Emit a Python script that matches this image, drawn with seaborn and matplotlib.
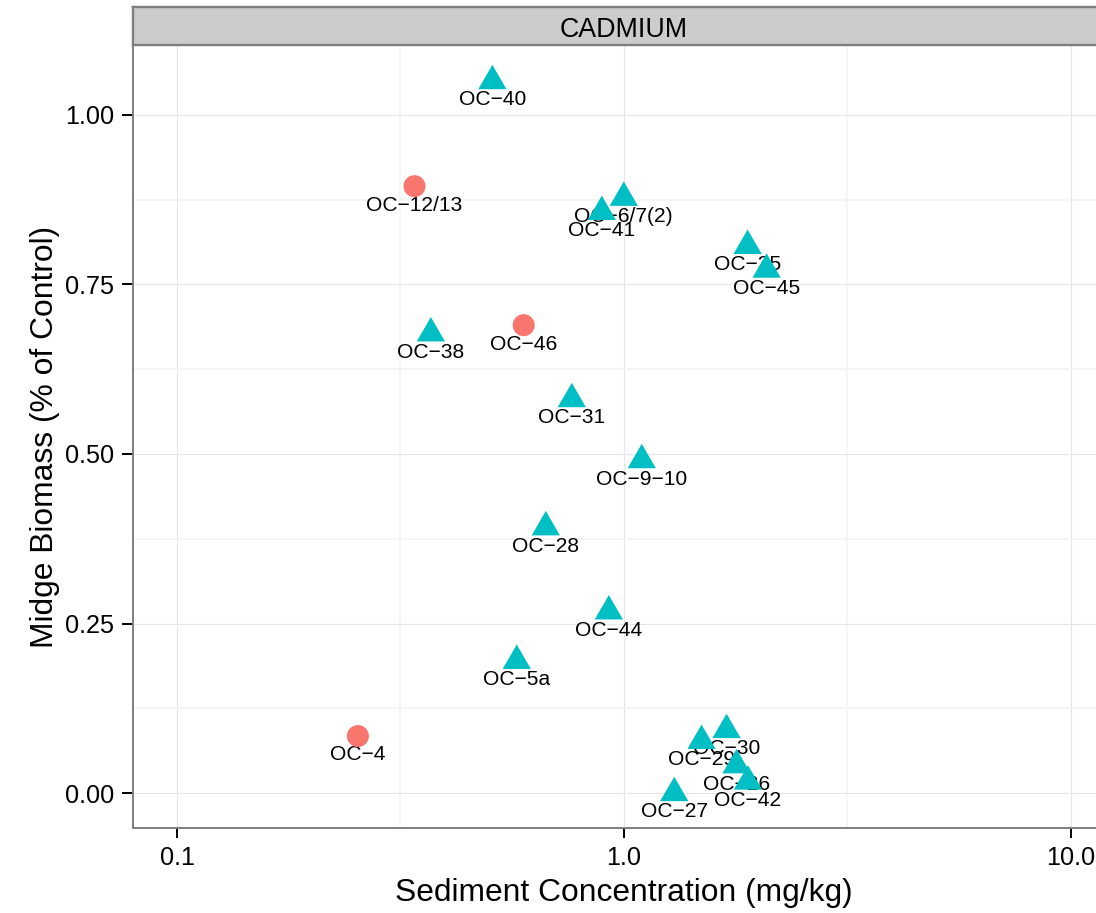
import numpy as np
import pandas as pd
import matplotlib
matplotlib.use("Agg")
import matplotlib.pyplot as plt
from matplotlib.markers import MarkerStyle
import seaborn as sns

# ---------------- data ----------------
stations = ["OC\u221212/13", "OC\u221246", "OC\u22124",
            "OC\u221240", "OC\u22126/7(2)", "OC\u221241", "OC\u221235", "OC\u221245",
            "OC\u221238", "OC\u221231", "OC\u22129\u221210", "OC\u221228", "OC\u221244",
            "OC\u22125a", "OC\u221230", "OC\u221229", "OC\u221226", "OC\u221242", "OC\u221227"]
concentration = [0.340, 0.597, 0.254,
                 0.508, 1.000, 0.893, 1.893, 2.088,
                 0.370, 0.765, 1.097, 0.669, 0.926,
                 0.576, 1.698, 1.493, 1.788, 1.897, 1.297]
biomass = [0.895, 0.690, 0.084,
           1.050, 0.878, 0.857, 0.807, 0.772,
           0.678, 0.581, 0.491, 0.392, 0.268,
           0.195, 0.093, 0.077, 0.041, 0.017, 0.000]
group = ["Reference"] * 3 + ["Test"] * 16
panel_title = "CADMIUM"
x_ticks = [0.1, 1.0, 10.0]
x_ticklabels = ["0.1", "1.0", "10.0"]
y_ticks = [0.0, 0.25, 0.50, 0.75, 1.00]
y_ticklabels = ["0.00", "0.25", "0.50", "0.75", "1.00"]

df = pd.DataFrame({"station": stations, "conc": concentration,
                   "biomass": biomass, "group": group})

# ---------------- style ----------------
sns.set_style("white")
plt.rcParams["font.family"] = ["Liberation Sans", "DejaVu Sans"]

W, H = 1096, 913
fig = plt.figure(figsize=(W / 100, H / 100), dpi=100)
fig.patch.set_facecolor("white")

L_px, R_px, T_px, B_px = 133, 1114, 45, 828
ax = fig.add_axes([L_px / W, 1 - B_px / H, (R_px - L_px) / W, (B_px - T_px) / H])
ax.set_facecolor("white")

# labels (drawn beneath points)
for _, r in df.iterrows():
    ax.text(r["conc"], r["biomass"] - 0.036, r["station"], ha="center",
            va="baseline", fontsize=15.1, color="black", zorder=3)

tri = MarkerStyle([(0, 1.5551), (-1.3468, -0.7776), (1.3468, -0.7776)])
sns.scatterplot(data=df[df.group == "Reference"], x="conc", y="biomass",
                color="#F8766D", marker="o", s=251, linewidth=0,
                edgecolor="none", legend=False, ax=ax, zorder=4)
sns.scatterplot(data=df[df.group == "Test"], x="conc", y="biomass",
                color="#00BFC4", marker=tri, s=551, linewidth=0,
                edgecolor="none", legend=False, ax=ax, zorder=4)

ax.set_xscale("log")
ax.set_xlim(0.0797, 12.51)
ax.set_ylim(-0.0516, 1.1032)

ax.set_xticks(x_ticks)
ax.set_xticklabels(x_ticklabels)
ax.set_xticks([10 ** -0.5, 10 ** 0.5], minor=True)
ax.set_yticks(y_ticks)
ax.set_yticklabels(y_ticklabels)
ax.set_yticks([0.125, 0.375, 0.625, 0.875], minor=True)
ax.tick_params(which="minor", length=0, labelbottom=False, labelleft=False)
ax.tick_params(axis="x", which="major", length=7.5, width=1.4, color="black",
               pad=5.5, labelsize=18.2, labelcolor="black", bottom=True)
ax.tick_params(axis="y", which="major", length=7.9, width=1.4, color="black",
               pad=5.8, labelsize=18.2, labelcolor="black", left=True)

ax.grid(which="major", color="#E5E5E5", linewidth=0.8)
ax.grid(which="minor", color="#F4F4F4", linewidth=1.2)
ax.set_axisbelow(True)
for sp in ax.spines.values():
    sp.set_color("#7F7F7F")
    sp.set_linewidth(1.4)
    sp.set_visible(True)

ax.set_xlabel("")
ax.set_ylabel("")

# strip
sax = fig.add_axes([L_px / W, 1 - T_px / H, (R_px - L_px) / W, 38 / H])
sax.set_facecolor("#CCCCCC")
sax.set_xticks([])
sax.set_yticks([])
for sp in sax.spines.values():
    sp.set_color("#7F7F7F")
    sp.set_linewidth(1.7)
    sp.set_visible(True)
sax.text(0.5, 0.218, panel_title, transform=sax.transAxes, ha="center",
         va="baseline", fontsize=19.3, color="black")

# axis titles
fig.text(624 / W, 1 - 901 / H, "Sediment Concentration (mg/kg)", ha="center",
         va="baseline", fontsize=22.9, color="black")
fig.text(45 / W, 1 - 436.5 / H, "Midge Biomass (% of Control)", ha="center",
         va="center", rotation=90, fontsize=22.9, color="black")

fig.savefig("out.png", dpi=100)
